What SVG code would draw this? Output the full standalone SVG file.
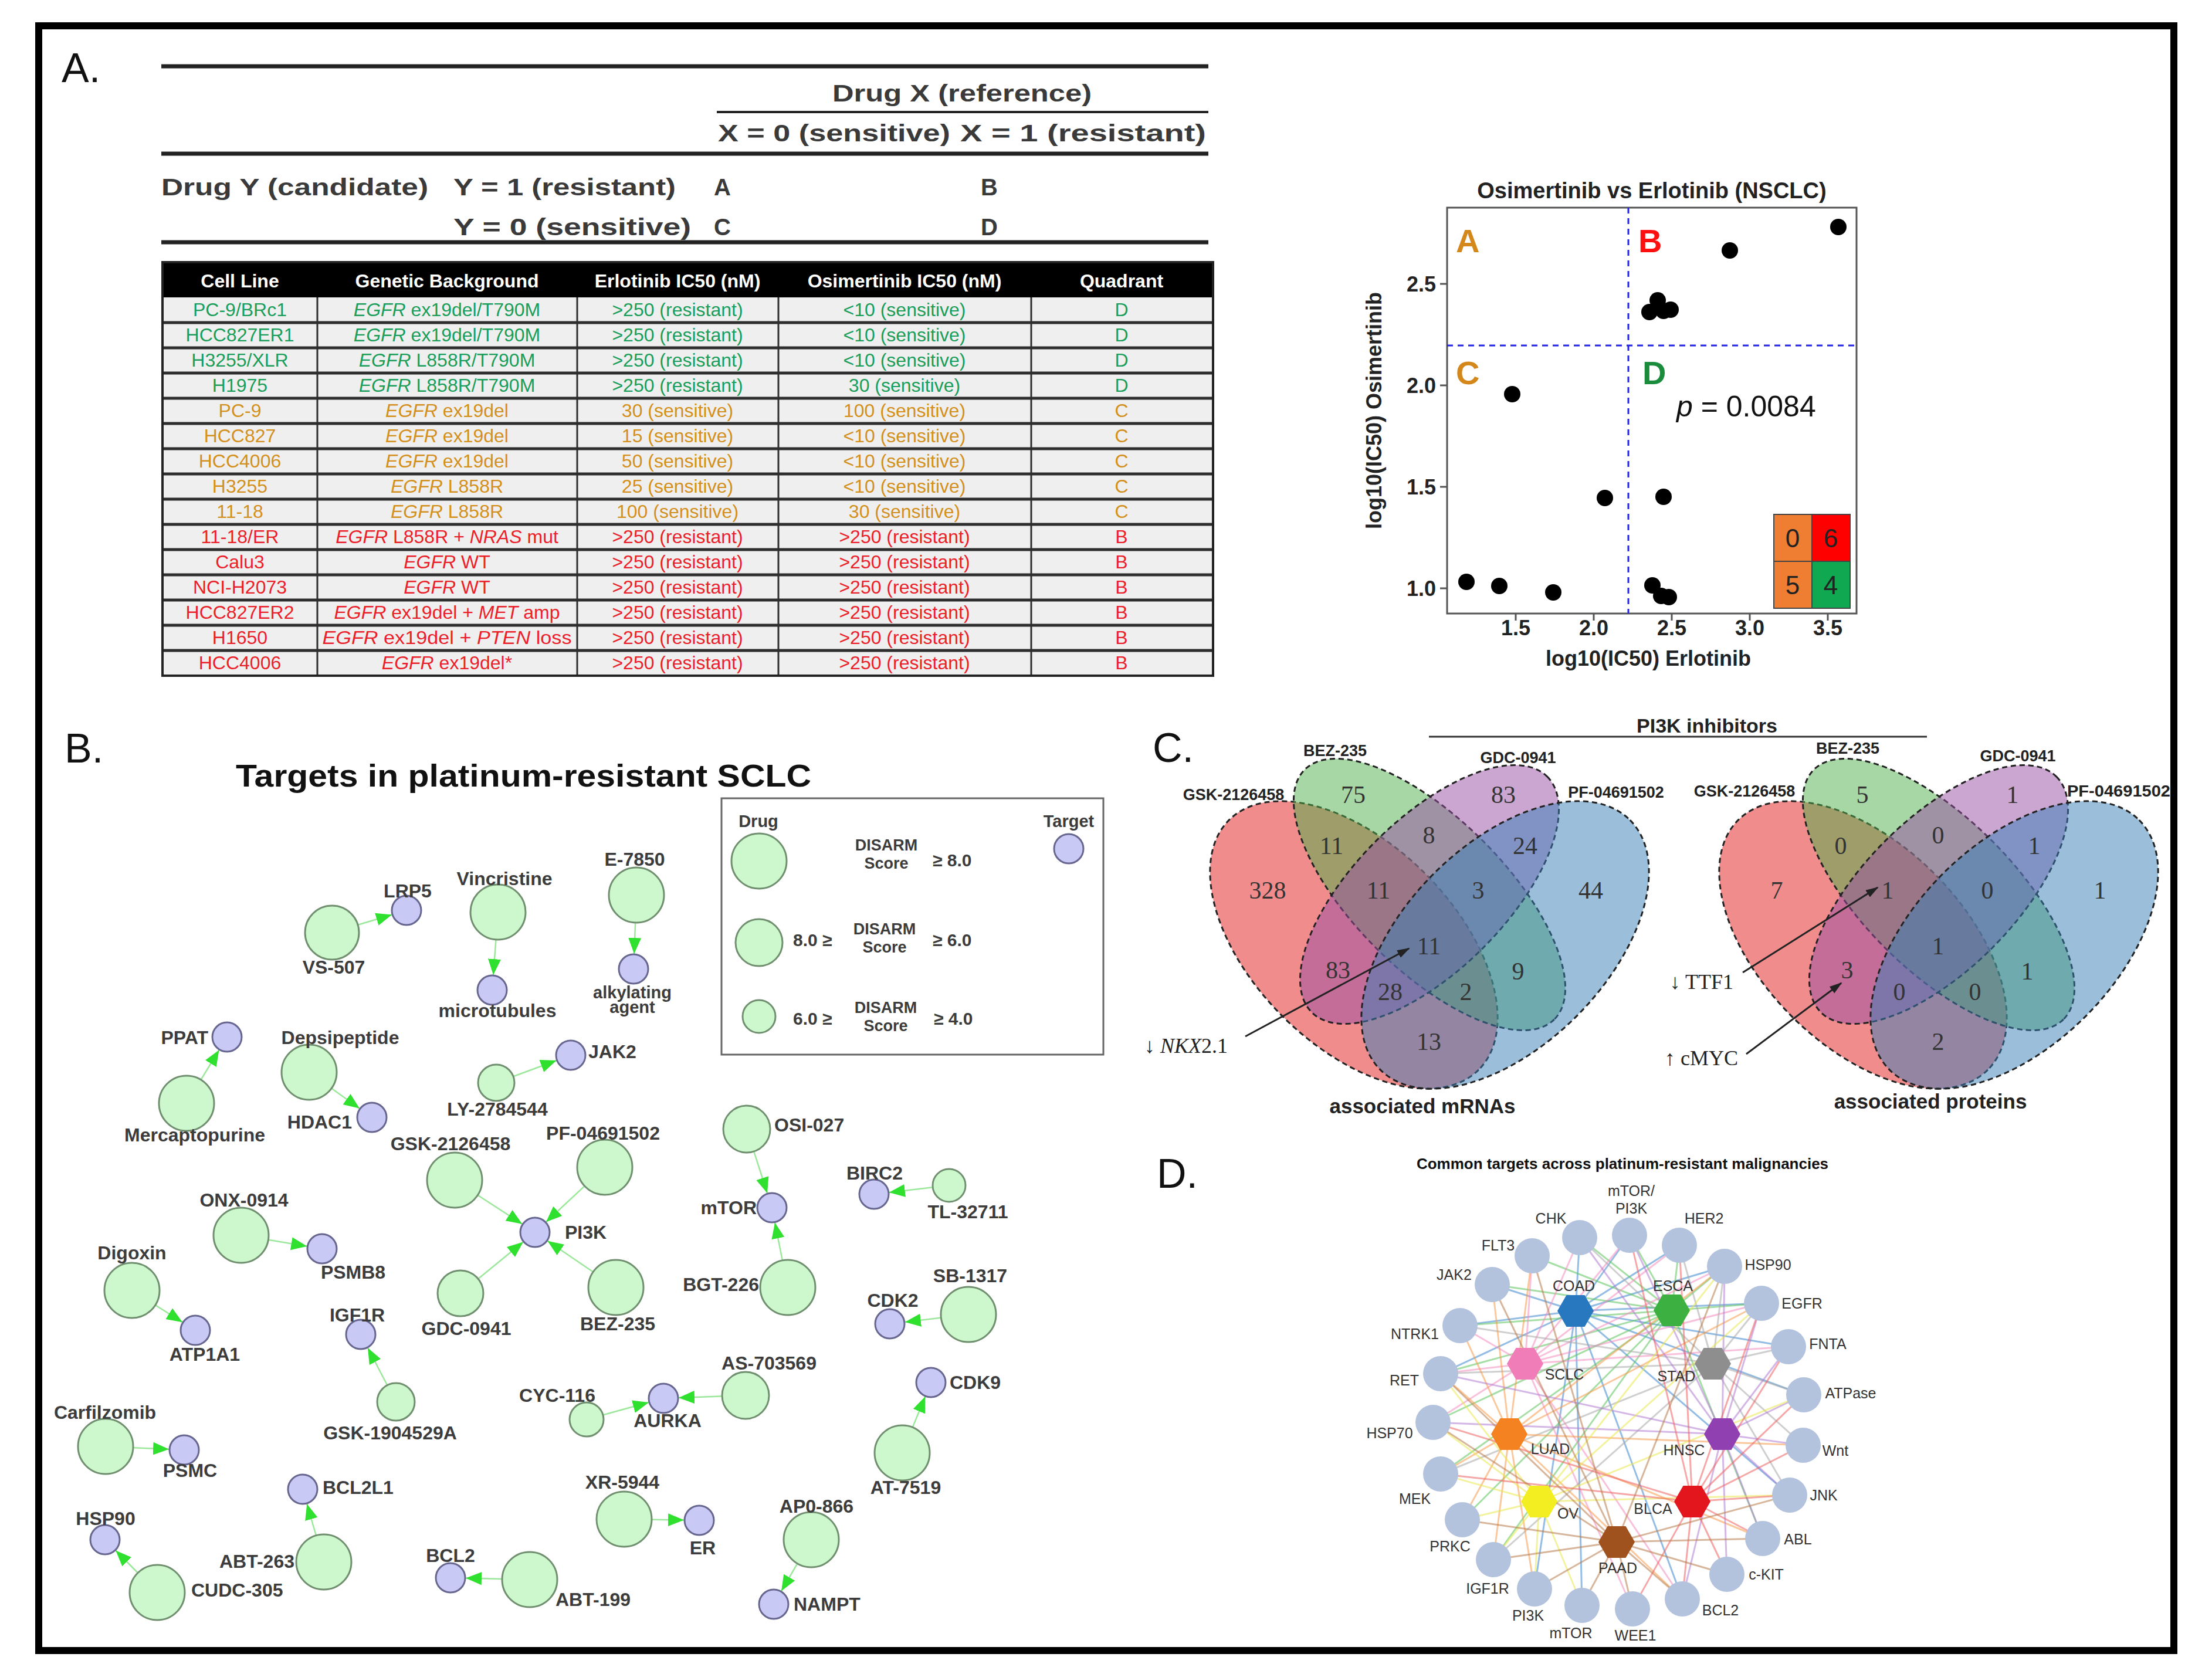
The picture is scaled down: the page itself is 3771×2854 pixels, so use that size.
<svg xmlns="http://www.w3.org/2000/svg" width="3771" height="2854" viewBox="0 0 3771 2854">
<defs>
<style>
text{font-family:"Liberation Sans",Arial,sans-serif}
.ser{font-family:"Liberation Serif","Times New Roman",serif}
.pl{font-size:70px;fill:#111}
.hd{font-size:40px;font-weight:bold;fill:#3a3a3a}
.th{font-size:32px;font-weight:bold;fill:#fff;text-anchor:middle}
.td{font-size:32px;text-anchor:middle}
.g{fill:#1a9e5a}.o{fill:#d4901c}.r{fill:#ea1f2a}
.sep{stroke:#2e2e2e;stroke-width:5}
.vl{stroke:#2e2e2e;stroke-width:3}
.drug{fill:#cdf7cd;stroke:#6f8f6f;stroke-width:3}
.tgt{fill:#c9c9f5;stroke:#66668f;stroke-width:3}
.nl{font-size:32px;font-weight:bold;fill:#3c3c3c;text-anchor:middle}
.ns{font-size:32px;font-weight:bold;fill:#3c3c3c;text-anchor:start}
.ne{font-size:32px;font-weight:bold;fill:#3c3c3c;text-anchor:end}
.lg{font-size:29px;font-weight:bold;fill:#3c3c3c;text-anchor:middle}
.lgd{font-size:27px;font-weight:bold;fill:#3c3c3c;text-anchor:middle}
.lgs{font-size:30px;font-weight:bold;fill:#3c3c3c;text-anchor:start}
.edge{stroke:#9be89b;stroke-width:2.5;fill:none;marker-end:url(#ga)}
.ax{font-size:36px;font-weight:bold;fill:#222}
.pt{fill:#000}
.vn{fill-opacity:0.5;stroke:#222;stroke-width:3;stroke-dasharray:9 6}
.vnum{font-family:"Liberation Serif","Times New Roman",serif;font-size:42px;fill:#333;text-anchor:middle}
.vlab{font-size:27px;font-weight:bold;fill:#222;text-anchor:middle}
.dt{fill:#b3c3dd}
.dl{font-size:25px;fill:#333;text-anchor:middle}
.de{fill:none;stroke-width:3;stroke-opacity:0.55}
</style>
<marker id="ga" markerUnits="userSpaceOnUse" viewBox="0 -14 60 28" markerWidth="60" markerHeight="28" refX="53" refY="0" orient="auto"><path d="M0,-11 L27,0 L0,11 Z" fill="#2fe02f"/></marker>
<marker id="ka" markerUnits="userSpaceOnUse" viewBox="0 -8 22 16" markerWidth="22" markerHeight="16" refX="20" refY="0" orient="auto"><path d="M0,-7 L22,0 L0,7 Z" fill="#222"/></marker>
<path id="hex" d="M-31,0 L-15.5,-27 L15.5,-27 L31,0 L15.5,27 L-15.5,27 Z"/>
</defs>
<rect x="0" y="0" width="3771" height="2854" fill="#fff"/>
<rect x="66" y="44" width="3640" height="2770" fill="none" stroke="#000" stroke-width="12"/>

<!-- Panel letters -->
<text class="pl" x="105" y="140">A.</text>
<text class="pl" x="110" y="1300">B.</text>
<text class="pl" x="1965" y="1299">C.</text>
<text class="pl" x="1972" y="2025">D.</text>

<!-- Panel A: contingency table -->
<g id="contingency">
<line x1="275" y1="113" x2="2060" y2="113" stroke="#222" stroke-width="7"/>
<text class="hd" x="1419" y="173" textLength="442" lengthAdjust="spacingAndGlyphs">Drug X (reference)</text>
<line x1="1222" y1="191" x2="2060" y2="191" stroke="#222" stroke-width="4"/>
<text class="hd" x="1224" y="241" textLength="396" lengthAdjust="spacingAndGlyphs">X = 0 (sensitive)</text>
<text class="hd" x="1637" y="241" textLength="419" lengthAdjust="spacingAndGlyphs">X = 1 (resistant)</text>
<line x1="275" y1="262" x2="2060" y2="262" stroke="#222" stroke-width="7"/>
<text class="hd" x="275" y="333" textLength="455" lengthAdjust="spacingAndGlyphs">Drug Y (candidate)</text>
<text class="hd" x="773" y="333" textLength="379" lengthAdjust="spacingAndGlyphs">Y = 1 (resistant)</text>
<text class="hd" x="1217" y="333">A</text>
<text class="hd" x="1672" y="333">B</text>
<text class="hd" x="773" y="401" textLength="405" lengthAdjust="spacingAndGlyphs">Y = 0 (sensitive)</text>
<text class="hd" x="1217" y="401">C</text>
<text class="hd" x="1672" y="401">D</text>
<line x1="275" y1="413" x2="2060" y2="413" stroke="#222" stroke-width="7"/>
</g>

<!-- Panel A: data table -->
<g id="datatable">
<rect x="277" y="447" width="1791" height="60" fill="#000"/>
<rect x="277" y="507" width="1791" height="645" fill="#efefef"/>
<text class="th" x="409" y="490">Cell Line</text>
<text class="th" x="762" y="490">Genetic Background</text>
<text class="th" x="1155" y="490">Erlotinib IC50 (nM)</text>
<text class="th" x="1542" y="490">Osimertinib IC50 (nM)</text>
<text class="th" x="1912" y="490">Quadrant</text>
<g class="sep">
<line x1="277" y1="550" x2="2068" y2="550"/><line x1="277" y1="593" x2="2068" y2="593"/>
<line x1="277" y1="636" x2="2068" y2="636"/><line x1="277" y1="679" x2="2068" y2="679"/>
<line x1="277" y1="722" x2="2068" y2="722"/><line x1="277" y1="765" x2="2068" y2="765"/>
<line x1="277" y1="808" x2="2068" y2="808"/><line x1="277" y1="851" x2="2068" y2="851"/>
<line x1="277" y1="894" x2="2068" y2="894"/><line x1="277" y1="937" x2="2068" y2="937"/>
<line x1="277" y1="980" x2="2068" y2="980"/><line x1="277" y1="1023" x2="2068" y2="1023"/>
<line x1="277" y1="1066" x2="2068" y2="1066"/><line x1="277" y1="1109" x2="2068" y2="1109"/>
</g>
<g class="vl">
<line x1="541" y1="507" x2="541" y2="1152"/><line x1="984" y1="507" x2="984" y2="1152"/>
<line x1="1327" y1="507" x2="1327" y2="1152"/><line x1="1758" y1="507" x2="1758" y2="1152"/>
</g>
<rect x="277" y="447" width="1791" height="705" fill="none" stroke="#222" stroke-width="4"/>
<g class="td g">
<text x="409" y="539">PC-9/BRc1</text><text x="762" y="539"><tspan font-style="italic">EGFR</tspan> ex19del/T790M</text><text x="1155" y="539">&gt;250 (resistant)</text><text x="1542" y="539">&lt;10 (sensitive)</text><text x="1912" y="539">D</text>
<text x="409" y="582">HCC827ER1</text><text x="762" y="582"><tspan font-style="italic">EGFR</tspan> ex19del/T790M</text><text x="1155" y="582">&gt;250 (resistant)</text><text x="1542" y="582">&lt;10 (sensitive)</text><text x="1912" y="582">D</text>
<text x="409" y="625">H3255/XLR</text><text x="762" y="625"><tspan font-style="italic">EGFR</tspan> L858R/T790M</text><text x="1155" y="625">&gt;250 (resistant)</text><text x="1542" y="625">&lt;10 (sensitive)</text><text x="1912" y="625">D</text>
<text x="409" y="668">H1975</text><text x="762" y="668"><tspan font-style="italic">EGFR</tspan> L858R/T790M</text><text x="1155" y="668">&gt;250 (resistant)</text><text x="1542" y="668">30 (sensitive)</text><text x="1912" y="668">D</text>
</g>
<g class="td o">
<text x="409" y="711">PC-9</text><text x="762" y="711"><tspan font-style="italic">EGFR</tspan> ex19del</text><text x="1155" y="711">30 (sensitive)</text><text x="1542" y="711">100 (sensitive)</text><text x="1912" y="711">C</text>
<text x="409" y="754">HCC827</text><text x="762" y="754"><tspan font-style="italic">EGFR</tspan> ex19del</text><text x="1155" y="754">15 (sensitive)</text><text x="1542" y="754">&lt;10 (sensitive)</text><text x="1912" y="754">C</text>
<text x="409" y="797">HCC4006</text><text x="762" y="797"><tspan font-style="italic">EGFR</tspan> ex19del</text><text x="1155" y="797">50 (sensitive)</text><text x="1542" y="797">&lt;10 (sensitive)</text><text x="1912" y="797">C</text>
<text x="409" y="840">H3255</text><text x="762" y="840"><tspan font-style="italic">EGFR</tspan> L858R</text><text x="1155" y="840">25 (sensitive)</text><text x="1542" y="840">&lt;10 (sensitive)</text><text x="1912" y="840">C</text>
<text x="409" y="883">11-18</text><text x="762" y="883"><tspan font-style="italic">EGFR</tspan> L858R</text><text x="1155" y="883">100 (sensitive)</text><text x="1542" y="883">30 (sensitive)</text><text x="1912" y="883">C</text>
</g>
<g class="td r">
<text x="409" y="926">11-18/ER</text><text x="762" y="926"><tspan font-style="italic">EGFR</tspan> L858R + <tspan font-style="italic">NRAS</tspan> mut</text><text x="1155" y="926">&gt;250 (resistant)</text><text x="1542" y="926">&gt;250 (resistant)</text><text x="1912" y="926">B</text>
<text x="409" y="969">Calu3</text><text x="762" y="969"><tspan font-style="italic">EGFR</tspan> WT</text><text x="1155" y="969">&gt;250 (resistant)</text><text x="1542" y="969">&gt;250 (resistant)</text><text x="1912" y="969">B</text>
<text x="409" y="1012">NCI-H2073</text><text x="762" y="1012"><tspan font-style="italic">EGFR</tspan> WT</text><text x="1155" y="1012">&gt;250 (resistant)</text><text x="1542" y="1012">&gt;250 (resistant)</text><text x="1912" y="1012">B</text>
<text x="409" y="1055">HCC827ER2</text><text x="762" y="1055"><tspan font-style="italic">EGFR</tspan> ex19del + <tspan font-style="italic">MET</tspan> amp</text><text x="1155" y="1055">&gt;250 (resistant)</text><text x="1542" y="1055">&gt;250 (resistant)</text><text x="1912" y="1055">B</text>
<text x="409" y="1098">H1650</text><text x="762" y="1098" textLength="425" lengthAdjust="spacingAndGlyphs"><tspan font-style="italic">EGFR</tspan> ex19del + <tspan font-style="italic">PTEN</tspan> loss</text><text x="1155" y="1098">&gt;250 (resistant)</text><text x="1542" y="1098">&gt;250 (resistant)</text><text x="1912" y="1098">B</text>
<text x="409" y="1141">HCC4006</text><text x="762" y="1141"><tspan font-style="italic">EGFR</tspan> ex19del*</text><text x="1155" y="1141">&gt;250 (resistant)</text><text x="1542" y="1141">&gt;250 (resistant)</text><text x="1912" y="1141">B</text>
</g>
</g>

<!-- Panel A: scatter plot -->
<g id="scatter">
<text x="2816" y="338" font-size="38" font-weight="bold" fill="#222" text-anchor="middle">Osimertinib vs Erlotinib (NSCLC)</text>
<rect x="2467" y="354" width="698" height="692" fill="#fff" stroke="#555" stroke-width="3"/>
<line x1="2776" y1="354" x2="2776" y2="1046" stroke="#2424e6" stroke-width="3" stroke-dasharray="10 8"/>
<line x1="2467" y1="589" x2="3165" y2="589" stroke="#2424e6" stroke-width="3" stroke-dasharray="10 8"/>
<g stroke="#555" stroke-width="3">
<line x1="2455" y1="484" x2="2467" y2="484"/><line x1="2455" y1="657" x2="2467" y2="657"/>
<line x1="2455" y1="830" x2="2467" y2="830"/><line x1="2455" y1="1003" x2="2467" y2="1003"/>
<line x1="2584" y1="1046" x2="2584" y2="1058"/><line x1="2717" y1="1046" x2="2717" y2="1058"/>
<line x1="2850" y1="1046" x2="2850" y2="1058"/><line x1="2983" y1="1046" x2="2983" y2="1058"/>
<line x1="3116" y1="1046" x2="3116" y2="1058"/>
</g>
<g class="ax" text-anchor="end">
<text x="2448" y="497">2.5</text><text x="2448" y="670">2.0</text><text x="2448" y="843">1.5</text><text x="2448" y="1016">1.0</text>
</g>
<g class="ax" text-anchor="middle">
<text x="2584" y="1083">1.5</text><text x="2717" y="1083">2.0</text><text x="2850" y="1083">2.5</text><text x="2983" y="1083">3.0</text><text x="3116" y="1083">3.5</text>
<text x="2810" y="1135">log10(IC50) Erlotinib</text>
<text x="0" y="0" transform="translate(2355 700) rotate(-90)">log10(IC50) Osimertinib</text>
</g>
<g font-size="56" font-weight="bold">
<text x="2482" y="430" fill="#d4881c">A</text>
<text x="2793" y="430" fill="#ff1010">B</text>
<text x="2482" y="655" fill="#d4881c">C</text>
<text x="2800" y="655" fill="#1a8c3c">D</text>
</g>
<text x="2858" y="710" font-size="50" fill="#111"><tspan font-style="italic">p</tspan> = 0.0084</text>
<g class="pt">
<circle cx="3134" cy="387" r="14"/><circle cx="2949" cy="427" r="14"/>
<circle cx="2826" cy="512" r="14"/><circle cx="2812" cy="532" r="14"/><circle cx="2836" cy="530" r="14"/><circle cx="2848" cy="528" r="14"/>
<circle cx="2578" cy="672" r="14"/><circle cx="2736" cy="849" r="14"/><circle cx="2836" cy="847" r="14"/>
<circle cx="2500" cy="992" r="14"/><circle cx="2556" cy="999" r="14"/><circle cx="2648" cy="1010" r="14"/>
<circle cx="2817" cy="998" r="14"/><circle cx="2832" cy="1016" r="14"/><circle cx="2845" cy="1018" r="14"/>
</g>
<g stroke="#444" stroke-width="2">
<rect x="3024" y="877" width="65" height="80" fill="#ef7d32"/>
<rect x="3089" y="877" width="65" height="80" fill="#ff0000"/>
<rect x="3024" y="957" width="65" height="80" fill="#ef7d32"/>
<rect x="3089" y="957" width="65" height="80" fill="#10a850"/>
</g>
<g font-size="44" fill="#222" text-anchor="middle">
<text x="3056" y="933">0</text><text x="3121" y="933">6</text><text x="3056" y="1013">5</text><text x="3121" y="1013">4</text>
</g>
</g>

<!-- Panel B -->
<text x="402" y="1341" font-size="54" font-weight="bold" fill="#111" textLength="981" lengthAdjust="spacingAndGlyphs">Targets in platinum-resistant SCLC</text>
<g id="legendB">
<rect x="1230" y="1361" width="651" height="437" fill="none" stroke="#666" stroke-width="3"/>
<text class="lg" x="1293" y="1410">Drug</text>
<text class="lg" x="1822" y="1410">Target</text>
<circle class="drug" cx="1294" cy="1468" r="47"/>
<circle class="drug" cx="1294" cy="1607" r="40"/>
<circle class="drug" cx="1294" cy="1733" r="28"/>
<circle class="tgt" cx="1822" cy="1447" r="25"/>
<text class="lgd" x="1511" y="1450">DISARM</text><text class="lgd" x="1511" y="1481">Score</text><text class="lgs" x="1590" y="1477">≥ 8.0</text>
<text class="lgs" x="1352" y="1613">8.0 ≥</text><text class="lgd" x="1508" y="1593">DISARM</text><text class="lgd" x="1508" y="1624">Score</text><text class="lgs" x="1590" y="1613">≥ 6.0</text>
<text class="lgs" x="1352" y="1747">6.0 ≥</text><text class="lgd" x="1510" y="1727">DISARM</text><text class="lgd" x="1510" y="1758">Score</text><text class="lgs" x="1592" y="1747">≥ 4.0</text>
</g>
<g id="edgesB">
<line class="edge" x1="566" y1="1590" x2="693" y2="1552"/>
<line class="edge" x1="849" y1="1555" x2="839" y2="1688"/>
<line class="edge" x1="1085" y1="1526" x2="1080" y2="1652"/>
<line class="edge" x1="318" y1="1881" x2="387" y2="1768"/>
<line class="edge" x1="527" y1="1828" x2="634" y2="1905"/>
<line class="edge" x1="846" y1="1846" x2="973" y2="1799"/>
<line class="edge" x1="775" y1="2012" x2="912" y2="2101"/>
<line class="edge" x1="1031" y1="1990" x2="912" y2="2101"/>
<line class="edge" x1="785" y1="2205" x2="912" y2="2101"/>
<line class="edge" x1="1050" y1="2195" x2="912" y2="2101"/>
<line class="edge" x1="411" y1="2106" x2="549" y2="2129"/>
<line class="edge" x1="225" y1="2200" x2="333" y2="2268"/>
<line class="edge" x1="675" y1="2390" x2="615" y2="2275"/>
<line class="edge" x1="180" y1="2466" x2="314" y2="2472"/>
<line class="edge" x1="552" y1="2663" x2="516" y2="2539"/>
<line class="edge" x1="268" y1="2715" x2="179" y2="2625"/>
<line class="edge" x1="903" y1="2693" x2="768" y2="2690"/>
<line class="edge" x1="1000" y1="2420" x2="1131" y2="2384"/>
<line class="edge" x1="1271" y1="2379" x2="1131" y2="2384"/>
<line class="edge" x1="1064" y1="2590" x2="1192" y2="2592"/>
<line class="edge" x1="1273" y1="1925" x2="1316" y2="2059"/>
<line class="edge" x1="1343" y1="2195" x2="1316" y2="2059"/>
<line class="edge" x1="1618" y1="2021" x2="1490" y2="2036"/>
<line class="edge" x1="1651" y1="2241" x2="1517" y2="2257"/>
<line class="edge" x1="1538" y1="2477" x2="1587" y2="2357"/>
<line class="edge" x1="1383" y1="2625" x2="1319" y2="2735"/>
</g>
<g id="drugsB">
<g id="d-vs507"><circle class="drug" cx="566" cy="1590" r="46"/><text class="nl" x="569" y="1660">VS-507</text></g>
<g id="d-vincristine"><circle class="drug" cx="849" cy="1555" r="47"/><text class="nl" x="860" y="1509">Vincristine</text></g>
<g id="d-e7850"><circle class="drug" cx="1085" cy="1526" r="47"/><text class="nl" x="1082" y="1476">E-7850</text></g>
<g id="d-mercaptopurine"><circle class="drug" cx="318" cy="1881" r="47"/><text class="nl" x="332" y="1946">Mercaptopurine</text></g>
<g id="d-depsipeptide"><circle class="drug" cx="527" cy="1828" r="47"/><text class="nl" x="580" y="1780">Depsipeptide</text></g>
<g id="d-ly2784544"><circle class="drug" cx="846" cy="1846" r="31"/><text class="nl" x="848" y="1902">LY-2784544</text></g>
<g id="d-gsk2126458"><circle class="drug" cx="775" cy="2012" r="47"/><text class="nl" x="768" y="1961">GSK-2126458</text></g>
<g id="d-pf04691502"><circle class="drug" cx="1031" cy="1990" r="47"/><text class="nl" x="1028" y="1943">PF-04691502</text></g>
<g id="d-gdc0941"><circle class="drug" cx="785" cy="2205" r="39"/><text class="nl" x="795" y="2276">GDC-0941</text></g>
<g id="d-bez235"><circle class="drug" cx="1050" cy="2195" r="47"/><text class="nl" x="1053" y="2268">BEZ-235</text></g>
<g id="d-onx0914"><circle class="drug" cx="411" cy="2106" r="47"/><text class="nl" x="416" y="2057">ONX-0914</text></g>
<g id="d-digoxin"><circle class="drug" cx="225" cy="2200" r="47"/><text class="nl" x="225" y="2147">Digoxin</text></g>
<g id="d-gsk1904529a"><circle class="drug" cx="675" cy="2390" r="32"/><text class="nl" x="665" y="2454">GSK-1904529A</text></g>
<g id="d-carfilzomib"><circle class="drug" cx="180" cy="2466" r="47"/><text class="nl" x="179" y="2419">Carfilzomib</text></g>
<g id="d-abt263"><circle class="drug" cx="552" cy="2663" r="47"/><text class="ne" x="502" y="2673">ABT-263</text></g>
<g id="d-cudc305"><circle class="drug" cx="268" cy="2715" r="47"/><text class="ns" x="326" y="2722">CUDC-305</text></g>
<g id="d-abt199"><circle class="drug" cx="903" cy="2693" r="47"/><text class="nl" x="1011" y="2738">ABT-199</text></g>
<g id="d-cyc116"><circle class="drug" cx="1000" cy="2420" r="29"/><text class="nl" x="950" y="2390">CYC-116</text></g>
<g id="d-xr5944"><circle class="drug" cx="1064" cy="2590" r="47"/><text class="nl" x="1061" y="2538">XR-5944</text></g>
<g id="d-osi027"><circle class="drug" cx="1273" cy="1925" r="40"/><text class="ns" x="1320" y="1929">OSI-027</text></g>
<g id="d-bgt226"><circle class="drug" cx="1343" cy="2195" r="47"/><text class="ne" x="1294" y="2201">BGT-226</text></g>
<g id="d-tl32711"><circle class="drug" cx="1618" cy="2021" r="28"/><text class="nl" x="1650" y="2077">TL-32711</text></g>
<g id="d-sb1317"><circle class="drug" cx="1651" cy="2241" r="47"/><text class="nl" x="1654" y="2186">SB-1317</text></g>
<g id="d-as703569"><circle class="drug" cx="1271" cy="2379" r="40"/><text class="nl" x="1311" y="2335">AS-703569</text></g>
<g id="d-at7519"><circle class="drug" cx="1538" cy="2477" r="47"/><text class="nl" x="1544" y="2547">AT-7519</text></g>
<g id="d-ap0866"><circle class="drug" cx="1383" cy="2625" r="47"/><text class="nl" x="1392" y="2579">AP0-866</text></g>
</g>
<g id="targetsB">
<g id="t-lrp5"><circle class="tgt" cx="693" cy="1552" r="25"/><text class="nl" x="695" y="1530">LRP5</text></g>
<g id="t-microtubules"><circle class="tgt" cx="839" cy="1688" r="25"/><text class="nl" x="848" y="1734">microtubules</text></g>
<g id="t-alkylating"><circle class="tgt" cx="1080" cy="1652" r="25"/><text class="lg" x="1078" y="1702">alkylating<tspan x="1078" dy="25">agent</tspan></text></g>
<g id="t-ppat"><circle class="tgt" cx="387" cy="1768" r="25"/><text class="ne" x="355" y="1780">PPAT</text></g>
<g id="t-hdac1"><circle class="tgt" cx="634" cy="1905" r="25"/><text class="ne" x="600" y="1924">HDAC1</text></g>
<g id="t-jak2"><circle class="tgt" cx="973" cy="1799" r="25"/><text class="ns" x="1003" y="1804">JAK2</text></g>
<g id="t-pi3k"><circle class="tgt" cx="912" cy="2101" r="25"/><text class="ns" x="963" y="2112">PI3K</text></g>
<g id="t-psmb8"><circle class="tgt" cx="549" cy="2129" r="25"/><text class="nl" x="602" y="2180">PSMB8</text></g>
<g id="t-atp1a1"><circle class="tgt" cx="333" cy="2268" r="25"/><text class="nl" x="349" y="2320">ATP1A1</text></g>
<g id="t-igf1r"><circle class="tgt" cx="615" cy="2275" r="25"/><text class="nl" x="609" y="2253">IGF1R</text></g>
<g id="t-psmc"><circle class="tgt" cx="314" cy="2472" r="25"/><text class="nl" x="324" y="2518">PSMC</text></g>
<g id="t-bcl2l1"><circle class="tgt" cx="516" cy="2539" r="25"/><text class="ns" x="550" y="2547">BCL2L1</text></g>
<g id="t-hsp90"><circle class="tgt" cx="179" cy="2625" r="25"/><text class="nl" x="180" y="2600">HSP90</text></g>
<g id="t-bcl2"><circle class="tgt" cx="768" cy="2690" r="25"/><text class="nl" x="768" y="2663">BCL2</text></g>
<g id="t-aurka"><circle class="tgt" cx="1131" cy="2384" r="25"/><text class="nl" x="1138" y="2433">AURKA</text></g>
<g id="t-er"><circle class="tgt" cx="1192" cy="2592" r="25"/><text class="nl" x="1198" y="2650">ER</text></g>
<g id="t-mtor"><circle class="tgt" cx="1316" cy="2059" r="25"/><text class="ne" x="1290" y="2070">mTOR</text></g>
<g id="t-birc2"><circle class="tgt" cx="1490" cy="2036" r="25"/><text class="nl" x="1491" y="2011">BIRC2</text></g>
<g id="t-cdk2"><circle class="tgt" cx="1517" cy="2257" r="25"/><text class="nl" x="1522" y="2228">CDK2</text></g>
<g id="t-cdk9"><circle class="tgt" cx="1587" cy="2357" r="25"/><text class="ns" x="1619" y="2368">CDK9</text></g>
<g id="t-nampt"><circle class="tgt" cx="1319" cy="2735" r="25"/><text class="ns" x="1353" y="2746">NAMPT</text></g>
</g>

<!-- Panel C -->
<g id="venn-title">
<text x="2910" y="1249" font-size="34" font-weight="bold" fill="#222" text-anchor="middle">PI3K inhibitors</text>
<line x1="2436" y1="1256" x2="3285" y2="1256" stroke="#333" stroke-width="3"/>
</g>
<g id="venn-mrna">
<ellipse class="vn" fill="#e41a1c" cx="2308" cy="1611" rx="301" ry="172" transform="rotate(45 2308 1611)"/>
<ellipse class="vn" fill="#4daf4a" cx="2437" cy="1525" rx="301" ry="129" transform="rotate(45 2437 1525)"/>
<ellipse class="vn" fill="#984ea3" cx="2437" cy="1525" rx="284" ry="129" transform="rotate(-45 2437 1525)"/>
<ellipse class="vn" fill="#377eb8" cx="2566" cy="1611" rx="301" ry="172" transform="rotate(-45 2566 1611)"/>
<text class="vnum" x="2161" y="1532">328</text><text class="vnum" x="2307" y="1369">75</text><text class="vnum" x="2563" y="1369">83</text><text class="vnum" x="2712" y="1532">44</text>
<text class="vnum" x="2270" y="1456">11</text><text class="vnum" x="2436" y="1438">8</text><text class="vnum" x="2600" y="1456">24</text>
<text class="vnum" x="2350" y="1532">11</text><text class="vnum" x="2520" y="1532">3</text><text class="vnum" x="2436" y="1627">11</text>
<text class="vnum" x="2281" y="1668">83</text><text class="vnum" x="2588" y="1670">9</text><text class="vnum" x="2370" y="1705">28</text><text class="vnum" x="2499" y="1705">2</text><text class="vnum" x="2436" y="1790">13</text>
<text class="vlab" x="2103" y="1364">GSK-2126458</text><text class="vlab" x="2276" y="1289">BEZ-235</text><text class="vlab" x="2588" y="1301">GDC-0941</text><text class="vlab" x="2755" y="1360">PF-04691502</text>
<text x="2425" y="1898" font-size="35" font-weight="bold" fill="#222" text-anchor="middle">associated mRNAs</text>
<line x1="2123" y1="1767" x2="2402" y2="1617" stroke="#222" stroke-width="3" marker-end="url(#ka)"/>
<text class="ser" x="1951" y="1795" font-size="36" fill="#222">↓ <tspan font-style="italic">NKX</tspan>2.1</text>
</g>
<g id="venn-protein">
<g transform="translate(868 0)">
<ellipse class="vn" fill="#e41a1c" cx="2308" cy="1611" rx="301" ry="172" transform="rotate(45 2308 1611)"/>
<ellipse class="vn" fill="#4daf4a" cx="2437" cy="1525" rx="301" ry="129" transform="rotate(45 2437 1525)"/>
<ellipse class="vn" fill="#984ea3" cx="2437" cy="1525" rx="284" ry="129" transform="rotate(-45 2437 1525)"/>
<ellipse class="vn" fill="#377eb8" cx="2566" cy="1611" rx="301" ry="172" transform="rotate(-45 2566 1611)"/>
<text class="vnum" x="2161" y="1532">7</text><text class="vnum" x="2307" y="1369">5</text><text class="vnum" x="2563" y="1369">1</text><text class="vnum" x="2712" y="1532">1</text>
<text class="vnum" x="2270" y="1456">0</text><text class="vnum" x="2436" y="1438">0</text><text class="vnum" x="2600" y="1456">1</text>
<text class="vnum" x="2350" y="1532">1</text><text class="vnum" x="2520" y="1532">0</text><text class="vnum" x="2436" y="1627">1</text>
<text class="vnum" x="2281" y="1668">3</text><text class="vnum" x="2588" y="1670">1</text><text class="vnum" x="2370" y="1705">0</text><text class="vnum" x="2499" y="1705">0</text><text class="vnum" x="2436" y="1790">2</text>
</g>
<text class="vlab" x="2974" y="1358">GSK-2126458</text><text class="vlab" x="3150" y="1285">BEZ-235</text><text class="vlab" x="3440" y="1298">GDC-0941</text><text class="vlab" x="3612" y="1358" textLength="176" lengthAdjust="spacingAndGlyphs">PF-04691502</text>
<text x="3291" y="1890" font-size="35" font-weight="bold" fill="#222" text-anchor="middle">associated proteins</text>
<line x1="2971" y1="1658" x2="3201" y2="1513" stroke="#222" stroke-width="3" marker-end="url(#ka)"/>
<line x1="2977" y1="1797" x2="3139" y2="1676" stroke="#222" stroke-width="3" marker-end="url(#ka)"/>
<text class="ser" x="2955" y="1686" font-size="36" fill="#222" text-anchor="end">↓ TTF1</text>
<text class="ser" x="2963" y="1816" font-size="36" fill="#222" text-anchor="end">↑ cMYC</text>
</g>

<!-- Panel D -->
<text x="2766" y="1993" font-size="26" font-weight="bold" fill="#111" text-anchor="middle">Common targets across platinum-resistant malignancies</text>
<g id="edgesD">
<path class="de" stroke="#3a86d0" d="M2686 2235L2489 2260M2686 2235L2456 2342M2686 2235L2544 2190M2686 2235L2693 2110M2686 2235L2778 2106M2686 2235L2863 2123M2686 2235L2940 2159M2686 2235L3003 2222M2686 2235L3049 2296M2686 2235L3075 2378M2686 2235L2616 2709M2686 2235L2697 2737M2686 2235L2868 2726M2686 2235L3051 2549"/>
<path class="de" stroke="#5cc45c" d="M2850 2234L2544 2190M2850 2234L2612 2141M2850 2234L2693 2110M2850 2234L2778 2106M2850 2234L2863 2123M2850 2234L2940 2159M2850 2234L3003 2222M2850 2234L2489 2260M2850 2234L2456 2342M2850 2234L2443 2425M2850 2234L2456 2513M2850 2234L2493 2591M2850 2234L2546 2659M2850 2234L3005 2623"/>
<path class="de" stroke="#f48cc0" d="M2600 2325L2612 2141M2600 2325L2693 2110M2600 2325L2778 2106M2600 2325L2863 2123M2600 2325L2940 2159M2600 2325L3003 2222M2600 2325L3049 2296M2600 2325L2456 2342M2600 2325L2489 2260M2600 2325L2443 2425M2600 2325L2783 2743M2600 2325L2868 2726"/>
<path class="de" stroke="#a8a8a8" d="M2920 2325L2863 2123M2920 2325L3003 2222M2920 2325L3049 2296M2920 2325L3075 2378M2920 2325L3074 2464M2920 2325L3051 2549M2920 2325L2940 2159M2920 2325L2693 2110M2920 2325L2489 2260M2920 2325L2456 2342M2920 2325L2456 2513M2920 2325L2546 2659"/>
<path class="de" stroke="#f59a4a" d="M2573 2445L2544 2190M2573 2445L2612 2141M2573 2445L2489 2260M2573 2445L2456 2342M2573 2445L3003 2222M2573 2445L2940 2159M2573 2445L2456 2513M2573 2445L2493 2591M2573 2445L2546 2659M2573 2445L2616 2709M2573 2445L2868 2726M2573 2445L3005 2623M2573 2445L3074 2464"/>
<path class="de" stroke="#b07cd4" d="M2936 2445L2940 2159M2936 2445L3003 2222M2936 2445L3049 2296M2936 2445L3075 2378M2936 2445L3074 2464M2936 2445L3051 2549M2936 2445L3005 2623M2936 2445L2944 2684M2936 2445L2868 2726M2936 2445L2456 2342M2936 2445L2443 2425M2936 2445L2693 2110M2936 2445L2778 2106"/>
<path class="de" stroke="#e8e850" d="M2624 2560L2456 2513M2624 2560L2493 2591M2624 2560L2546 2659M2624 2560L2616 2709M2624 2560L2697 2737M2624 2560L2443 2425M2624 2560L2456 2342M2624 2560L3003 2222M2624 2560L2940 2159M2624 2560L3075 2378M2624 2560L3051 2549"/>
<path class="de" stroke="#ee6060" d="M2885 2560L3075 2378M2885 2560L3074 2464M2885 2560L3051 2549M2885 2560L3005 2623M2885 2560L2944 2684M2885 2560L2868 2726M2885 2560L3003 2222M2885 2560L3049 2296M2885 2560L2443 2425M2885 2560L2456 2513M2885 2560L2863 2123M2885 2560L2778 2106M2885 2560L2783 2743"/>
<path class="de" stroke="#b87a48" d="M2756 2629L2493 2591M2756 2629L2546 2659M2756 2629L2616 2709M2756 2629L2697 2737M2756 2629L2783 2743M2756 2629L2868 2726M2756 2629L2944 2684M2756 2629L3005 2623M2756 2629L3051 2549M2756 2629L2443 2425M2756 2629L2456 2342M2756 2629L2544 2190M2756 2629L2612 2141M2756 2629L2940 2159"/>
</g>
<g id="targetsD">
<g id="dt-mtorpi3k"><circle class="dt" cx="2778" cy="2106" r="30"/><text class="dl" x="2781" y="2039">mTOR/<tspan x="2781" dy="30">PI3K</tspan></text></g>
<g id="dt-chk"><circle class="dt" cx="2693" cy="2110" r="30"/><text class="dl" x="2644" y="2086">CHK</text></g>
<g id="dt-her2"><circle class="dt" cx="2863" cy="2123" r="30"/><text class="dl" x="2905" y="2086">HER2</text></g>
<g id="dt-flt3"><circle class="dt" cx="2612" cy="2141" r="30"/><text class="dl" x="2554" y="2132">FLT3</text></g>
<g id="dt-hsp90"><circle class="dt" cx="2940" cy="2159" r="30"/><text class="dl" x="3014" y="2165">HSP90</text></g>
<g id="dt-jak2"><circle class="dt" cx="2544" cy="2190" r="30"/><text class="dl" x="2479" y="2182">JAK2</text></g>
<g id="dt-egfr"><circle class="dt" cx="3003" cy="2222" r="30"/><text class="dl" x="3072" y="2231">EGFR</text></g>
<g id="dt-ntrk1"><circle class="dt" cx="2489" cy="2260" r="30"/><text class="dl" x="2412" y="2283">NTRK1</text></g>
<g id="dt-fnta"><circle class="dt" cx="3049" cy="2296" r="30"/><text class="dl" x="3116" y="2300">FNTA</text></g>
<g id="dt-ret"><circle class="dt" cx="2456" cy="2342" r="30"/><text class="dl" x="2394" y="2362">RET</text></g>
<g id="dt-atpase"><circle class="dt" cx="3075" cy="2378" r="30"/><text class="dl" x="3155" y="2384">ATPase</text></g>
<g id="dt-hsp70"><circle class="dt" cx="2443" cy="2425" r="30"/><text class="dl" x="2369" y="2452">HSP70</text></g>
<g id="dt-wnt"><circle class="dt" cx="3074" cy="2464" r="30"/><text class="dl" x="3129" y="2482">Wnt</text></g>
<g id="dt-mek"><circle class="dt" cx="2456" cy="2513" r="30"/><text class="dl" x="2412" y="2564">MEK</text></g>
<g id="dt-jnk"><circle class="dt" cx="3051" cy="2549" r="30"/><text class="dl" x="3109" y="2558">JNK</text></g>
<g id="dt-prkc"><circle class="dt" cx="2493" cy="2591" r="30"/><text class="dl" x="2472" y="2645">PRKC</text></g>
<g id="dt-abl"><circle class="dt" cx="3005" cy="2623" r="30"/><text class="dl" x="3065" y="2633">ABL</text></g>
<g id="dt-igf1r"><circle class="dt" cx="2546" cy="2659" r="30"/><text class="dl" x="2536" y="2717">IGF1R</text></g>
<g id="dt-ckit"><circle class="dt" cx="2944" cy="2684" r="30"/><text class="dl" x="3011" y="2693">c-KIT</text></g>
<g id="dt-pi3k"><circle class="dt" cx="2616" cy="2709" r="30"/><text class="dl" x="2605" y="2763">PI3K</text></g>
<g id="dt-bcl2"><circle class="dt" cx="2868" cy="2726" r="30"/><text class="dl" x="2933" y="2754">BCL2</text></g>
<g id="dt-mtor"><circle class="dt" cx="2697" cy="2737" r="30"/><text class="dl" x="2678" y="2793">mTOR</text></g>
<g id="dt-wee1"><circle class="dt" cx="2783" cy="2743" r="30"/><text class="dl" x="2788" y="2797">WEE1</text></g>
</g>
<g id="hubsD">
<g id="h-coad"><use href="#hex" x="2686" y="2235" fill="#2878c0"/><text class="dl" x="2683" y="2201">COAD</text></g>
<g id="h-esca"><use href="#hex" x="2850" y="2234" fill="#3cb040"/><text class="dl" x="2852" y="2201">ESCA</text></g>
<g id="h-sclc"><use href="#hex" x="2600" y="2325" fill="#f07cb8"/><text class="dl" x="2667" y="2352">SCLC</text></g>
<g id="h-stad"><use href="#hex" x="2920" y="2325" fill="#8e8e8e"/><text class="dl" x="2858" y="2355">STAD</text></g>
<g id="h-luad"><use href="#hex" x="2573" y="2445" fill="#f58220"/><text class="dl" x="2643" y="2479">LUAD</text></g>
<g id="h-hnsc"><use href="#hex" x="2936" y="2445" fill="#9040b0"/><text class="dl" x="2871" y="2481">HNSC</text></g>
<g id="h-ov"><use href="#hex" x="2624" y="2560" fill="#f2ee22"/><text class="dl" x="2673" y="2589">OV</text></g>
<g id="h-blca"><use href="#hex" x="2885" y="2560" fill="#e3161e"/><text class="dl" x="2818" y="2581">BLCA</text></g>
<g id="h-paad"><use href="#hex" x="2756" y="2629" fill="#a0521e"/><text class="dl" x="2758" y="2682">PAAD</text></g>
</g>
</svg>
